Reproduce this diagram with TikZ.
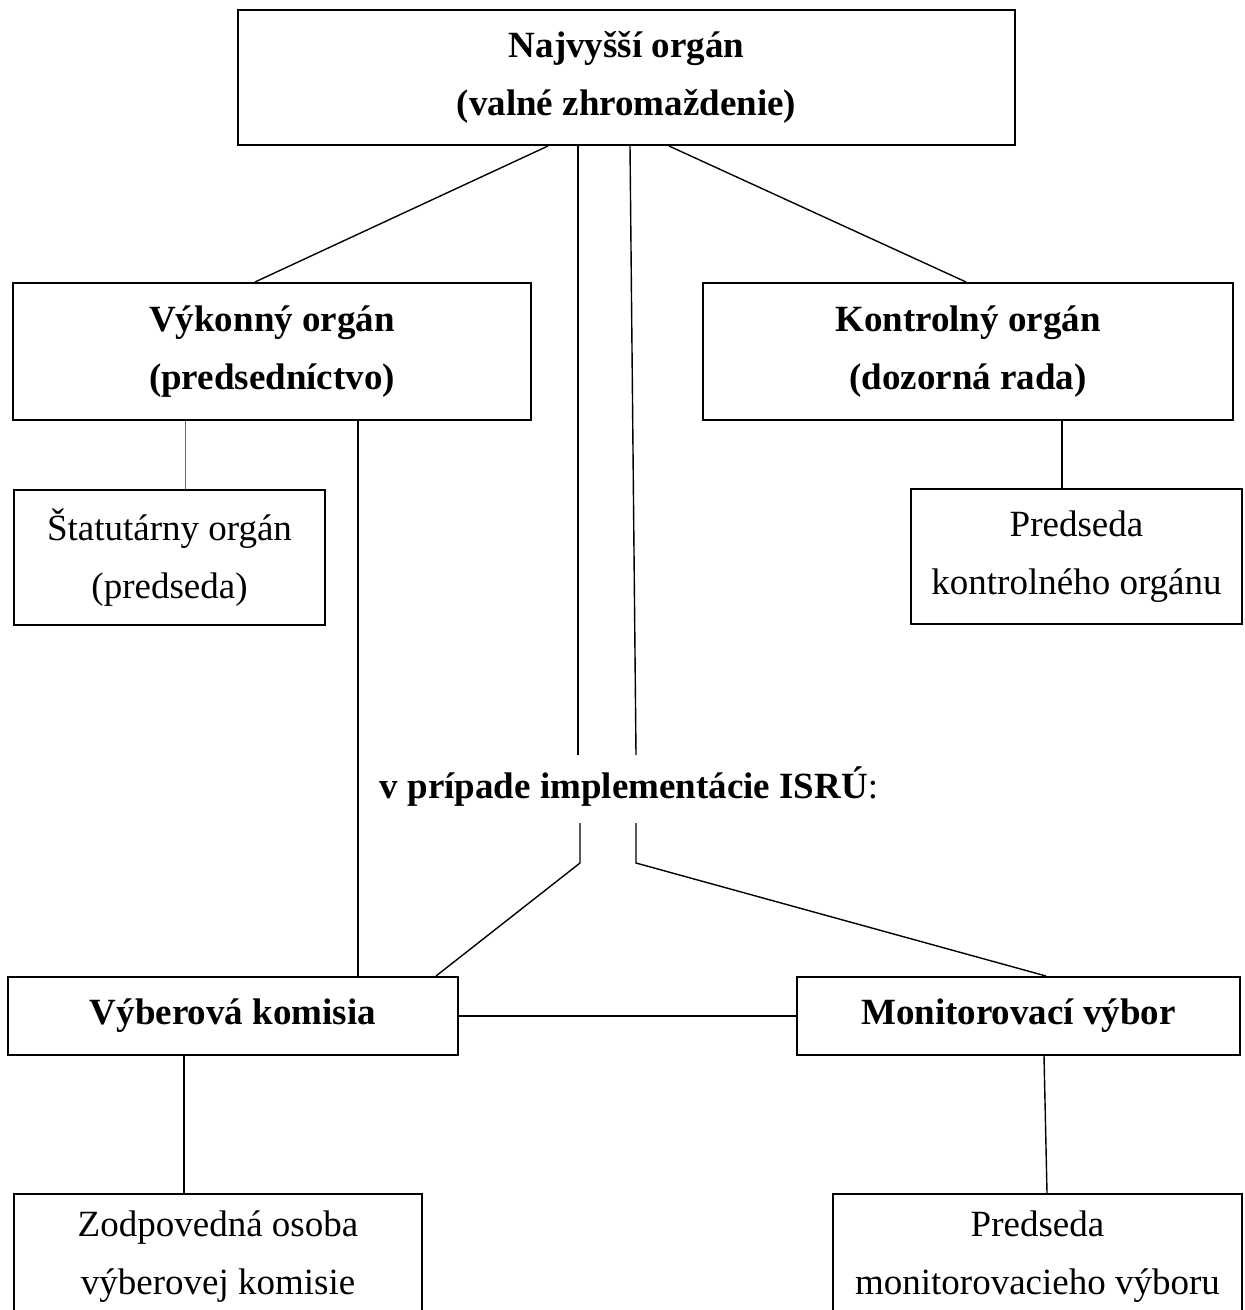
\documentclass[tikz,border=0pt]{standalone}
\usepackage{fontspec}
\setmainfont{Liberation Serif}
\usetikzlibrary{positioning}
\tikzset{
  orgbox/.style={draw, line width=1pt, inner sep=0pt, align=center,
    font=\fontsize{18.5}{29}\selectfont},
  headbox/.style={orgbox, font=\fontsize{18.5}{29}\selectfont\bfseries},
  link/.style={line width=0.7pt},
  thinlink/.style={line width=0.4pt, black!60}
}
\begin{document}
\begin{tikzpicture}[x=0.5pt, y=-0.5pt]
\useasboundingbox (0,0) rectangle (1244,1310) ;

\node[headbox, minimum width=388.5pt, minimum height=67.5pt] (naj) at (626.5,77.5) {Najvyšší orgán\\(valné zhromaždenie)} ;
\node[headbox, minimum width=259pt, minimum height=68.5pt] (vyk) at (272,351.5) {Výkonný orgán\\(predsedníctvo)} ;
\node[headbox, minimum width=265pt, minimum height=68.5pt] (kon) at (968,351.5) {Kontrolný orgán\\(dozorná rada)} ;
\node[orgbox, minimum width=155.5pt, minimum height=67.5pt] (stat) at (169.5,557.5) {Štatutárny orgán\\(predseda)} ;
\node[orgbox, minimum width=165.5pt, minimum height=67.5pt] (pkon) at (1076.5,556.5) {Predseda\\kontrolného orgánu} ;
\node[font=\fontsize{18.5}{29}\selectfont] (isru) at (629,787) {\textbf{v prípade implementácie ISRÚ}:} ;
\node[headbox, minimum width=225pt, minimum height=39pt] (vyb) at (233,1016) {Výberová komisia} ;
\node[headbox, minimum width=221.5pt, minimum height=39pt] (mon) at (1018.5,1016) {Monitorovací výbor} ;
\node[orgbox, minimum width=204pt, minimum height=63pt] (zod) at (218,1257) {Zodpovedná osoba\\výberovej komisie} ;
\node[orgbox, minimum width=204.5pt, minimum height=63pt] (pmon) at (1037.5,1257) {Predseda\\monitorovacieho výboru} ;

\coordinate (isruA) at (578,755) ;
\coordinate (isruB) at (636,755) ;
\coordinate (isruC) at (580,823) ;
\coordinate (isruD) at (636,823) ;
\coordinate (isruE) at (580,863) ;
\coordinate (isruF) at (636,863) ;

\draw[link] ([shift={(-78.5,0)}]naj.south) -- ([shift={(-17,0)}]vyk.north) ;
\draw[link] ([shift={(42.5,0)}]naj.south) -- ([shift={(-2,0)}]kon.north) ;
\draw[link] ([shift={(-48.5,0)}]naj.south) -- (isruA) ;
\draw[link] ([shift={(3.5,0)}]naj.south) -- (isruB) ;

\coordinate (s1) at ([shift={(15.5,0)}]stat.north) ;
\draw[thinlink] (s1) -- (s1 |- vyk.south) ;
\coordinate (k1) at ([shift={(-14.5,0)}]pkon.north) ;
\draw[link] (k1) -- (k1 |- kon.south) ;
\coordinate (v1) at ([shift={(86,0)}]vyk.south) ;
\draw[link] (v1) -- (v1 |- vyb.north) ;

\draw[link] (isruC) -- (isruE) -- ([shift={(-23,0)}]vyb.north east) ;
\draw[link] (isruD) -- (isruF) -- ([shift={(27.5,0)}]mon.north) ;
\draw[line width=1pt] (vyb.east) -- (mon.west) ;

\draw[link] ([shift={(-49,0)}]vyb.south) -- ([shift={(-34,0)}]zod.north) ;
\draw[link] ([shift={(25.5,0)}]mon.south) -- ([shift={(9.5,0)}]pmon.north) ;
\end{tikzpicture}
\end{document}
